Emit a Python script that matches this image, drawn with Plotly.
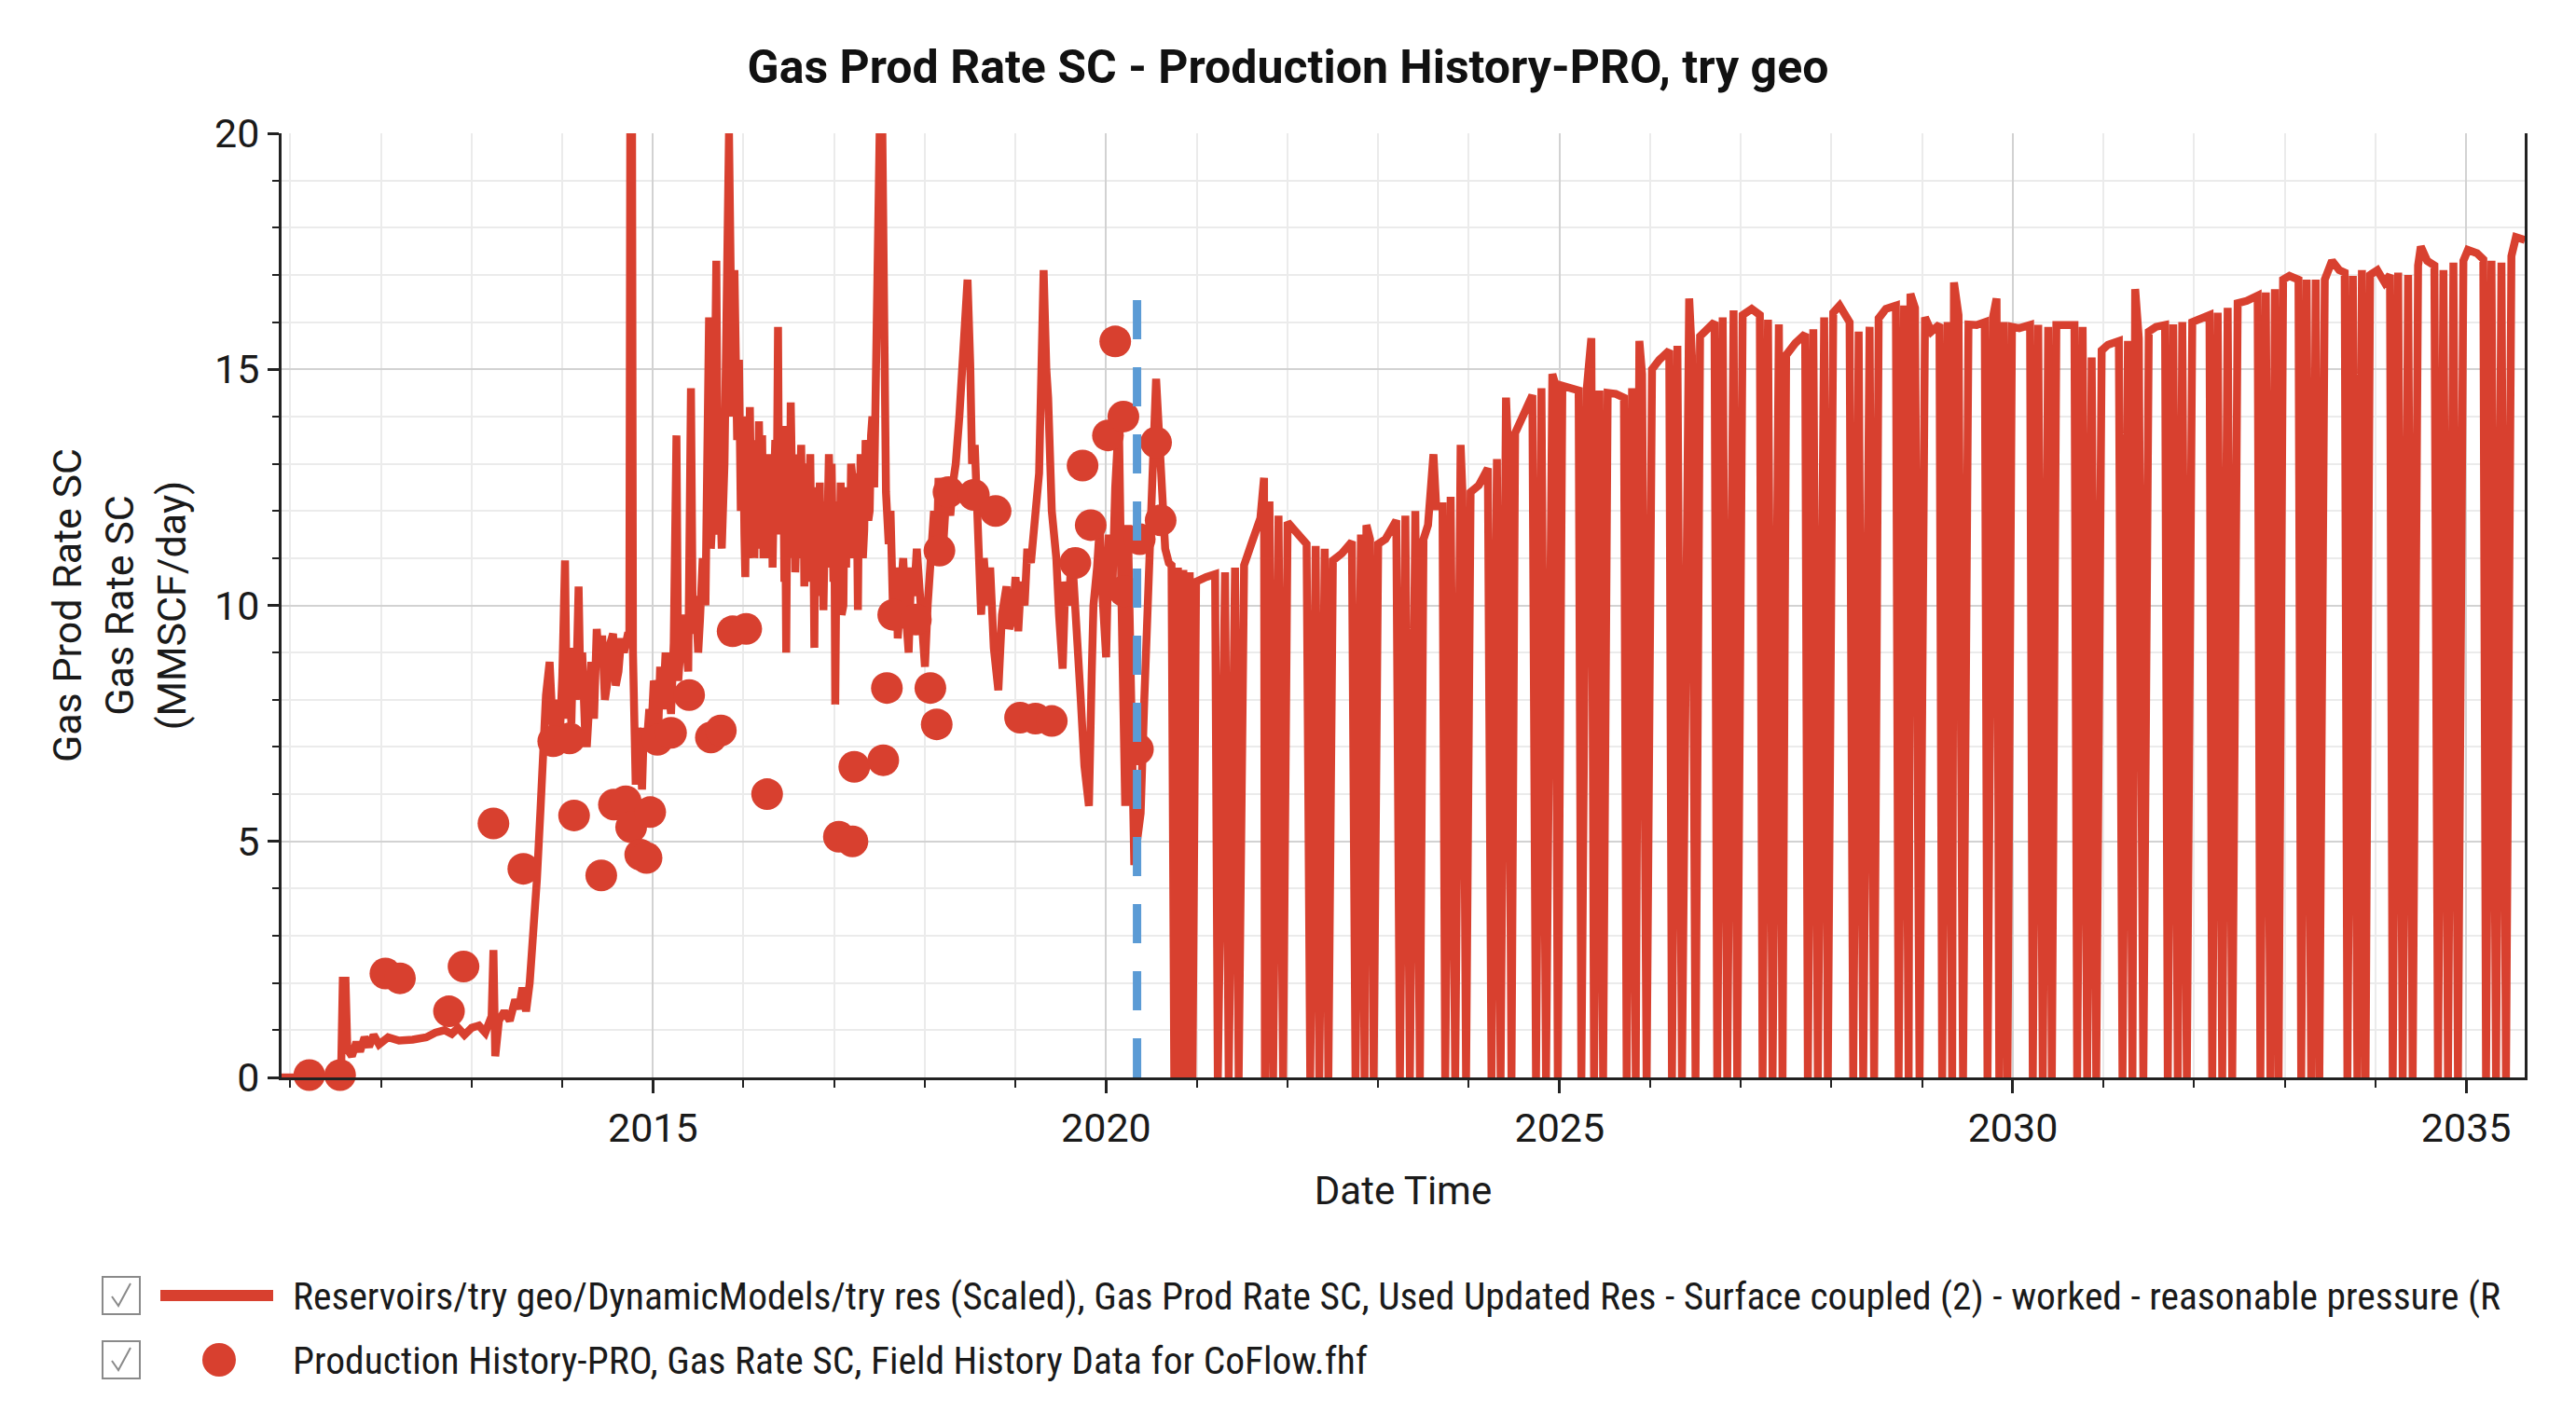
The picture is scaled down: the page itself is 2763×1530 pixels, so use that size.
import plotly.graph_objects as go
import pandas as pd

# ---------------- data (decimal years, MMSCF/day) ----------------
# simulated history-match part of the red line
hist_year = [2010.90, 2011.56, 2011.58, 2011.61, 2011.63, 2011.68, 2011.73, 2011.77, 2011.82, 2011.87,
             2011.92, 2011.98, 2012.08, 2012.20, 2012.35, 2012.50, 2012.60, 2012.70, 2012.78, 2012.85,
             2012.92, 2013.00, 2013.08, 2013.15, 2013.22, 2013.24, 2013.26, 2013.30, 2013.36, 2013.42,
             2013.48, 2013.52, 2013.56, 2013.60, 2013.64, 2013.68, 2013.72, 2013.76, 2013.79, 2013.82,
             2013.86, 2013.88, 2013.90, 2013.93, 2013.97, 2014.00, 2014.03, 2014.05, 2014.08, 2014.10,
             2014.12, 2014.15, 2014.18, 2014.20, 2014.22, 2014.25, 2014.27, 2014.30, 2014.32, 2014.35,
             2014.38, 2014.41, 2014.44, 2014.47, 2014.50, 2014.53, 2014.56, 2014.59, 2014.62, 2014.65,
             2014.68, 2014.72, 2014.74, 2014.75, 2014.77, 2014.78, 2014.81, 2014.83, 2014.85, 2014.88,
             2014.90, 2014.93, 2014.96, 2014.98, 2015.01, 2015.04, 2015.06, 2015.08, 2015.11, 2015.14,
             2015.17, 2015.20, 2015.23, 2015.26, 2015.28, 2015.33, 2015.36, 2015.39, 2015.42, 2015.44,
             2015.47, 2015.50, 2015.52, 2015.55, 2015.58, 2015.60, 2015.62, 2015.64, 2015.67, 2015.70,
             2015.72, 2015.74, 2015.76, 2015.79, 2015.82, 2015.84, 2015.86, 2015.88, 2015.90, 2015.93,
             2015.95, 2015.96, 2015.97, 2015.985, 2016.00, 2016.01, 2016.02, 2016.035, 2016.05, 2016.06,
             2016.07, 2016.085, 2016.10, 2016.11, 2016.12, 2016.13, 2016.14, 2016.155, 2016.17, 2016.18,
             2016.19, 2016.205, 2016.22, 2016.23, 2016.24, 2016.255, 2016.27, 2016.285, 2016.30, 2016.31,
             2016.32, 2016.335, 2016.35, 2016.365, 2016.38, 2016.39, 2016.40, 2016.41, 2016.42, 2016.435,
             2016.45, 2016.46, 2016.47, 2016.485, 2016.50, 2016.51, 2016.52, 2016.535, 2016.55, 2016.56,
             2016.57, 2016.585, 2016.60, 2016.61, 2016.62, 2016.635, 2016.65, 2016.66, 2016.67, 2016.685,
             2016.70, 2016.71, 2016.72, 2016.735, 2016.75, 2016.765, 2016.78, 2016.79, 2016.80, 2016.815,
             2016.83, 2016.84, 2016.85, 2016.865, 2016.88, 2016.89, 2016.90, 2016.915, 2016.93, 2016.94,
             2016.95, 2016.96, 2016.97, 2016.98, 2016.99, 2017.00, 2017.01, 2017.025, 2017.04, 2017.05,
             2017.06, 2017.07, 2017.08, 2017.09, 2017.10, 2017.11, 2017.12, 2017.13, 2017.14, 2017.155,
             2017.17, 2017.185, 2017.20, 2017.215, 2017.23, 2017.245, 2017.26, 2017.27, 2017.28, 2017.29,
             2017.30, 2017.315, 2017.33, 2017.345, 2017.36, 2017.375, 2017.39, 2017.405, 2017.42, 2017.44,
             2017.46, 2017.50, 2017.53, 2017.55, 2017.57, 2017.60, 2017.62, 2017.65, 2017.68, 2017.70,
             2017.73, 2017.76, 2017.79, 2017.82, 2017.85, 2017.88, 2017.91, 2017.94, 2017.97, 2018.00,
             2018.03, 2018.05, 2018.08, 2018.10, 2018.13, 2018.15, 2018.18, 2018.20, 2018.24, 2018.28,
             2018.31, 2018.34, 2018.38, 2018.42, 2018.47, 2018.50, 2018.52, 2018.55, 2018.58, 2018.62,
             2018.65, 2018.69, 2018.72, 2018.76, 2018.81, 2018.85, 2018.90, 2018.93, 2018.97, 2019.00,
             2019.03, 2019.06, 2019.10, 2019.13, 2019.17, 2019.21, 2019.26, 2019.28, 2019.31, 2019.34,
             2019.36, 2019.40, 2019.45, 2019.48, 2019.52, 2019.55, 2019.59, 2019.62, 2019.66, 2019.69,
             2019.72, 2019.76, 2019.81, 2019.84, 2019.86, 2019.90, 2019.93, 2019.96, 2020.00, 2020.03,
             2020.07, 2020.10, 2020.14, 2020.17, 2020.21, 2020.24, 2020.28, 2020.31, 2020.34, 2020.38,
             2020.42, 2020.45, 2020.50, 2020.55, 2020.58, 2020.60, 2020.65, 2020.69]
hist_rate = [0.0, 0.0, 2.05, 2.05, 0.6, 0.45, 0.75, 0.55, 0.85, 0.65,
             0.9, 0.7, 0.85, 0.78, 0.8, 0.85, 0.95, 1.0, 0.92, 1.05,
             0.9, 1.05, 1.1, 0.95, 1.3, 2.7, 0.45, 1.2, 1.4, 1.2,
             1.65, 1.45, 1.9, 1.4, 2.0, 2.9, 4.2, 5.7, 7.0, 8.1,
             8.8, 7.3, 7.2, 8.0, 7.1, 8.5, 10.95, 7.6, 8.4, 7.5,
             9.1, 8.0, 10.4, 8.2, 9.0, 7.4, 7.0, 8.0, 8.8, 7.6,
             9.5, 8.7, 9.36, 8.0, 8.4, 9.2, 9.4, 8.3, 8.6, 9.3,
             9.0, 9.36, 9.36, 20.0, 20.0, 9.0, 6.2, 7.4, 7.2, 6.1,
             7.4, 7.0, 7.8, 7.2, 8.4, 8.2, 7.4, 8.7, 7.8, 9.0,
             8.1, 7.7, 9.2, 13.6, 8.4, 9.8, 9.3, 8.6, 14.6, 9.4,
             10.2, 9.0, 9.7, 11.0, 10.0, 12.5, 16.1, 11.2, 12.4, 17.3,
             11.5, 12.5, 11.2, 13.0, 20.0, 20.0, 16.8, 14.0, 17.1, 13.5,
             15.2, 13.0, 12.0, 14.0, 13.2, 11.5, 10.6, 13.5, 12.8, 11.0,
             14.2, 12.0, 11.3, 13.5, 11.0, 12.5, 13.0, 11.2, 13.9, 12.0,
             11.5, 13.6, 11.0, 12.5, 12.9, 11.3, 13.2, 12.0, 11.0, 12.8,
             10.8, 12.5, 13.5, 12.0, 15.9, 12.5, 13.0, 11.5, 12.7, 13.8,
             10.5, 12.0, 9.0, 13.0, 12.5, 11.0, 14.3, 12.5, 11.5, 13.2,
             10.7, 12.8, 13.0, 11.2, 12.0, 13.4, 11.0, 12.6, 10.4, 13.0,
             12.8, 11.0, 12.1, 13.2, 10.5, 12.5, 9.1, 12.0, 11.8, 10.5,
             11.3, 12.6, 10.2, 12.0, 9.9, 11.5, 12.2, 10.8, 11.6, 13.2,
             12.5, 11.0, 13.0, 11.8, 10.5, 12.0, 7.9, 11.5, 10.8, 12.2,
             11.3, 12.6, 9.8, 11.5, 10.0, 12.0, 11.8, 10.8, 12.5, 11.5,
             11.0, 13.0, 12.7, 11.0, 11.5, 12.8, 9.9, 12.0, 11.8, 13.2,
             13.0, 11.0, 11.6, 13.5, 13.2, 11.8, 12.0, 13.6, 14.0, 12.5,
             15.5, 20.0, 20.0, 14.5, 12.4, 11.3, 12.0, 9.7, 10.8, 9.3,
             10.5, 11.0, 9.8, 9.0, 10.8, 10.2, 11.2, 10.5, 9.4, 8.7,
             10.0, 10.6, 11.5, 12.0, 11.0, 12.7, 11.8, 11.2, 12.5, 11.9,
             12.6, 13.0, 14.0, 15.2, 16.9, 15.1, 13.0, 13.4, 11.5, 9.8,
             11.0, 10.0, 10.8, 9.1, 8.2, 9.8, 10.4, 9.5, 9.8, 10.6,
             9.45, 10.5, 10.0, 11.2, 10.9, 12.0, 12.8, 14.5, 17.1, 15.0,
             14.4, 12.0, 11.0, 9.8, 8.66, 10.5, 10.0, 11.2, 9.6, 9.1,
             8.0, 6.6, 5.75, 8.5, 10.0, 10.8, 11.7, 10.2, 8.9, 11.5,
             10.4, 12.5, 13.95, 10.0, 5.75, 11.7, 6.5, 4.5, 5.0, 5.6,
             8.0, 10.0, 12.2, 14.8, 13.5, 12.6, 11.2, 10.9]

# forecast part of the red line (periodic shut-ins drop the rate to zero)
fc_year = [2020.72, 2020.75, 2020.79, 2020.82, 2020.85, 2020.88, 2020.92, 2020.95, 2020.99, 2021.10,
           2021.20, 2021.23, 2021.31, 2021.35, 2021.42, 2021.46, 2021.52, 2021.60, 2021.70, 2021.74,
           2021.75, 2021.80, 2021.84, 2021.90, 2021.95, 2022.00, 2022.12, 2022.21, 2022.25, 2022.31,
           2022.35, 2022.41, 2022.45, 2022.50, 2022.60, 2022.71, 2022.75, 2022.81, 2022.85, 2022.87,
           2022.91, 2022.95, 2023.00, 2023.08, 2023.20, 2023.24, 2023.30, 2023.35, 2023.41, 2023.46,
           2023.50, 2023.55, 2023.61, 2023.64, 2023.71, 2023.74, 2023.80, 2023.85, 2023.91, 2023.93,
           2023.97, 2024.02, 2024.11, 2024.21, 2024.25, 2024.31, 2024.35, 2024.41, 2024.43, 2024.47,
           2024.51, 2024.60, 2024.70, 2024.74, 2024.80, 2024.85, 2024.92, 2024.95, 2024.98, 2025.03,
           2025.12, 2025.21, 2025.24, 2025.30, 2025.35, 2025.38, 2025.44, 2025.48, 2025.53, 2025.62,
           2025.71, 2025.74, 2025.80, 2025.84, 2025.88, 2025.91, 2025.96, 2026.02, 2026.10, 2026.21,
           2026.24, 2026.30, 2026.35, 2026.43, 2026.46, 2026.50, 2026.55, 2026.63, 2026.71, 2026.74,
           2026.80, 2026.85, 2026.92, 2026.96, 2027.02, 2027.12, 2027.21, 2027.24, 2027.30, 2027.35,
           2027.42, 2027.46, 2027.50, 2027.60, 2027.71, 2027.74, 2027.80, 2027.85, 2027.92, 2027.96,
           2028.02, 2028.09, 2028.20, 2028.24, 2028.30, 2028.35, 2028.42, 2028.47, 2028.52, 2028.60,
           2028.71, 2028.74, 2028.80, 2028.85, 2028.87, 2028.92, 2028.97, 2029.03, 2029.10, 2029.19,
           2029.22, 2029.28, 2029.33, 2029.35, 2029.40, 2029.45, 2029.51, 2029.60, 2029.69, 2029.72,
           2029.78, 2029.82, 2029.85, 2029.90, 2029.94, 2029.99, 2030.07, 2030.19, 2030.22, 2030.28,
           2030.33, 2030.39, 2030.43, 2030.48, 2030.58, 2030.68, 2030.71, 2030.77, 2030.82, 2030.87,
           2030.92, 2030.98, 2031.05, 2031.17, 2031.21, 2031.27, 2031.32, 2031.35, 2031.39, 2031.44,
           2031.50, 2031.58, 2031.68, 2031.71, 2031.77, 2031.82, 2031.87, 2031.92, 2031.98, 2032.07,
           2032.17, 2032.20, 2032.26, 2032.31, 2032.37, 2032.42, 2032.48, 2032.58, 2032.70, 2032.73,
           2032.79, 2032.84, 2032.89, 2032.93, 2032.98, 2033.05, 2033.15, 2033.18, 2033.24, 2033.29,
           2033.34, 2033.38, 2033.44, 2033.52, 2033.60, 2033.66, 2033.69, 2033.75, 2033.80, 2033.85,
           2033.89, 2033.94, 2034.02, 2034.10, 2034.16, 2034.19, 2034.25, 2034.30, 2034.36, 2034.41,
           2034.47, 2034.50, 2034.57, 2034.65, 2034.69, 2034.75, 2034.80, 2034.86, 2034.91, 2034.97,
           2035.02, 2035.12, 2035.19, 2035.22, 2035.28, 2035.33, 2035.39, 2035.44, 2035.50, 2035.55,
           2035.65]
fc_rate = [10.85, 0.0, 10.8, 0.0, 10.75, 0.0, 10.7, 0.0, 10.5, 10.6,
           10.66, 0.0, 10.7, 0.0, 10.8, 0.0, 10.85, 11.3, 11.85, 12.7,
           0.0, 12.2, 0.0, 11.9, 0.0, 11.76, 11.5, 11.3, 0.0, 11.26,
           0.0, 11.2, 0.0, 10.95, 11.1, 11.35, 0.0, 11.5, 0.0, 11.7,
           11.4, 0.0, 11.3, 11.4, 11.8, 0.0, 11.9, 0.0, 12.0, 0.0,
           11.4, 11.7, 13.2, 12.1, 12.1, 0.0, 12.3, 0.0, 13.4, 12.4,
           0.0, 12.4, 12.54, 12.9, 0.0, 13.1, 0.0, 14.4, 13.4, 0.0,
           13.65, 14.07, 14.45, 0.0, 14.6, 0.0, 14.9, 14.7, 0.0, 14.65,
           14.6, 14.55, 0.0, 14.6, 15.66, 0.0, 14.55, 0.0, 14.5, 14.48,
           14.4, 0.0, 14.6, 0.0, 15.6, 14.9, 0.0, 15.0, 15.2, 15.4,
           0.0, 15.5, 0.0, 16.5, 15.3, 0.0, 15.7, 15.85, 16.0, 0.0,
           16.1, 0.0, 16.25, 0.0, 16.15, 16.28, 16.15, 0.0, 16.05, 0.0,
           15.95, 0.0, 15.3, 15.55, 15.75, 0.0, 15.85, 0.0, 16.1, 0.0,
           16.2, 16.35, 16.0, 0.0, 15.8, 0.0, 15.9, 0.0, 16.08, 16.28,
           16.35, 0.0, 16.35, 0.0, 16.6, 16.3, 0.0, 16.1, 15.8, 15.95,
           0.0, 16.0, 0.0, 16.84, 16.15, 0.0, 15.95, 15.94, 16.0, 0.0,
           16.1, 16.5, 0.0, 16.0, 0.0, 15.9, 15.87, 15.94, 0.0, 15.94,
           0.0, 15.9, 0.0, 15.94, 15.94, 15.94, 0.0, 15.9, 0.0, 15.25,
           0.0, 15.4, 15.52, 15.6, 0.0, 15.6, 0.0, 16.7, 15.66, 0.0,
           15.8, 15.9, 15.94, 0.0, 15.95, 0.0, 16.0, 0.0, 16.0, 16.08,
           16.15, 0.0, 16.2, 0.0, 16.3, 0.0, 16.4, 16.45, 16.56, 0.0,
           16.63, 0.0, 16.7, 0.0, 16.9, 16.98, 16.9, 0.0, 16.9, 0.0,
           16.9, 0.0, 16.9, 17.3, 17.1, 17.05, 0.0, 16.98, 0.0, 17.1,
           0.0, 17.0, 17.1, 16.84, 17.0, 0.0, 17.05, 0.0, 17.0, 0.0,
           17.2, 17.6, 17.3, 17.2, 0.0, 17.1, 0.0, 17.26, 0.0, 17.3,
           17.53, 17.46, 17.33, 0.0, 17.3, 0.0, 17.26, 0.0, 17.4, 17.8,
           17.74]

# field history data (red dots)
obs_year = [2010.89, 2011.21, 2011.55, 2012.05, 2012.21, 2012.75, 2012.91, 2013.24, 2013.57, 2013.90,
            2014.08, 2014.13, 2014.43, 2014.57, 2014.70, 2014.76, 2014.86, 2014.93, 2014.97, 2015.05,
            2015.20, 2015.40, 2015.64, 2015.75, 2015.88, 2016.03, 2016.26, 2017.05, 2017.20, 2017.22,
            2017.54, 2017.58, 2017.65, 2017.90, 2018.06, 2018.13, 2018.16, 2018.26, 2018.54, 2018.78,
            2019.05, 2019.22, 2019.40, 2019.66, 2019.74, 2019.83, 2020.02, 2020.10, 2020.19, 2020.20,
            2020.35, 2020.37, 2020.55, 2020.60]
obs_rate = [0.05, 0.05, 0.05, 2.2, 2.1, 1.4, 2.35, 5.38, 4.42, 7.12,
            7.18, 5.55, 4.28, 5.78, 5.85, 5.3, 4.72, 4.65, 5.62, 7.15,
            7.3, 8.1, 7.2, 7.35, 9.45, 9.5, 6.0, 5.1, 5.0, 6.58,
            6.72, 8.25, 9.8, 9.7, 8.25, 7.48, 11.16, 12.4, 12.34, 12.0,
            7.62, 7.6, 7.55, 10.9, 12.96, 11.7, 13.6, 15.59, 14.0, 10.3,
            6.95, 11.4, 13.45, 11.8]

# history / forecast boundary (blue dashed line)
split_year = [2020.34, 2020.34]
split_rate = [0.0, 16.9]

x_range_year = [2010.904, 2035.647]
y_range = [0, 20]

title_text = "Gas Prod Rate SC - Production History-PRO, try geo"
y_title = "Gas Prod Rate SC<br>Gas Rate SC<br>(MMSCF/day)"
x_title = "Date Time"
legend_sim = ("Reservoirs/try geo/DynamicModels/try res (Scaled), Gas Prod Rate SC, Used Updated Res - "
              "Surface coupled (2) - worked - reasonable pressure (R")
legend_obs = "Production History-PRO, Gas Rate SC, Field History Data for CoFlow.fhf"

assert len(hist_year) == len(hist_rate)
assert len(fc_year) == len(fc_rate)
assert len(obs_year) == len(obs_rate)


def to_date(y):
    yi = int(y)
    start = pd.Timestamp(yi, 1, 1)
    days = (pd.Timestamp(yi + 1, 1, 1) - start).days
    return start + pd.Timedelta(days=(y - yi) * days)


RED = "#d8402f"
BLUE = "#5b9bd5"
W, H = 2763, 1530
ML, MR, MT, MB = 302, 55, 143, 374
PW, PH = W - ML - MR, H - MT - MB


def px(xp):
    return (xp - ML) / PW


def py(yp):
    return (H - MB - yp) / PH


fig = go.Figure()
fig.add_trace(go.Scatter(
    x=[to_date(v) for v in hist_year + fc_year], y=hist_rate + fc_rate,
    mode="lines", line=dict(color=RED, width=8.5), name=legend_sim, showlegend=False,
))
fig.add_trace(go.Scatter(
    x=[to_date(v) for v in obs_year], y=obs_rate, mode="markers",
    marker=dict(color=RED, size=34, line=dict(width=0)), name=legend_obs,
    showlegend=False, cliponaxis=False,
))
fig.add_trace(go.Scatter(
    x=[to_date(v) for v in split_year], y=split_rate, mode="lines",
    line=dict(color=BLUE, width=9, dash="42px,30px"), showlegend=False, hoverinfo="skip",
))

FONT = "Roboto, Arial, sans-serif"
LEG_FONT = "Liberation Sans Narrow, Roboto Condensed, Roboto, sans-serif"

shapes = []
annotations = []
# manual legend (checkbox + symbol + label)
rows = [(1390, "line", legend_sim), (1459, "dot", legend_obs)]
for yc, kind, label in rows:
    shapes.append(dict(type="rect", xref="paper", yref="paper",
                       x0=px(110), x1=px(150), y0=py(yc - 20), y1=py(yc + 20),
                       line=dict(color="#8a8a8a", width=2), fillcolor="white"))
    shapes.append(dict(type="path", xref="paper", yref="paper",
                       path=f"M {px(120)} {py(yc + 1)} L {px(127)} {py(yc + 11)} L {px(140)} {py(yc - 13)}",
                       line=dict(color="#8a8a8a", width=2)))
    if kind == "line":
        shapes.append(dict(type="line", xref="paper", yref="paper",
                           x0=px(172), x1=px(293), y0=py(yc), y1=py(yc),
                           line=dict(color=RED, width=12)))
    else:
        shapes.append(dict(type="circle", xref="paper", yref="paper",
                           x0=px(217), x1=px(253), y0=py(yc - 18), y1=py(yc + 18),
                           line=dict(width=0), fillcolor=RED))
    annotations.append(dict(xref="paper", yref="paper", x=px(312), y=py(yc),
                            xanchor="left", yanchor="middle", showarrow=False,
                            text=label, font=dict(family=LEG_FONT, size=41.5, color="#1a1a1a")))

fig.update_layout(
    width=W, height=H,
    margin=dict(l=ML, r=MR, t=MT, b=MB),
    paper_bgcolor="white", plot_bgcolor="white",
    font=dict(family=FONT, color="#1a1a1a"),
    title=dict(text=f"<b>{title_text}</b>", x=0.5, xref="container", xanchor="center",
               y=1 - 71 / H, yref="container", yanchor="middle",
               font=dict(family=FONT, size=50, color="#111111")),
    shapes=shapes, annotations=annotations,
    showlegend=False,
)
fig.update_xaxes(
    type="date", range=[to_date(x_range_year[0]), to_date(x_range_year[1])],
    tick0="2015-01-01", dtick="M60", tickformat="%Y",
    showgrid=True, gridcolor="#d2d2d2", gridwidth=2,
    showline=True, linecolor="#222222", linewidth=3, mirror=False,
    ticks="outside", ticklen=14, tickwidth=3, tickcolor="#222222",
    tickfont=dict(size=43, family=FONT, color="#1a1a1a"),
    minor=dict(tick0="2011-01-01", dtick="M12", showgrid=True, gridcolor="#ebebeb", gridwidth=2,
               ticks="outside", ticklen=8, tickwidth=2, tickcolor="#222222"),
    title=dict(text=x_title, font=dict(size=42, family=FONT, color="#1a1a1a"), standoff=30),
    zeroline=False,
)
fig.update_yaxes(
    range=y_range, tick0=0, dtick=5,
    showgrid=True, gridcolor="#d2d2d2", gridwidth=2,
    showline=True, linecolor="#222222", linewidth=3, mirror=True,
    ticks="outside", ticklen=12, tickwidth=3, tickcolor="#222222",
    tickfont=dict(size=43, family=FONT, color="#1a1a1a"),
    minor=dict(dtick=1, showgrid=True, gridcolor="#ebebeb", gridwidth=2,
               ticks="outside", ticklen=7, tickwidth=2, tickcolor="#222222"),
    title=dict(text=y_title, font=dict(size=43, family=FONT, color="#1a1a1a"), standoff=18),
    zeroline=False,
)

fig.write_html("out.html", config={"displayModeBar": False},
               post_script="document.body.style.margin='0';")
